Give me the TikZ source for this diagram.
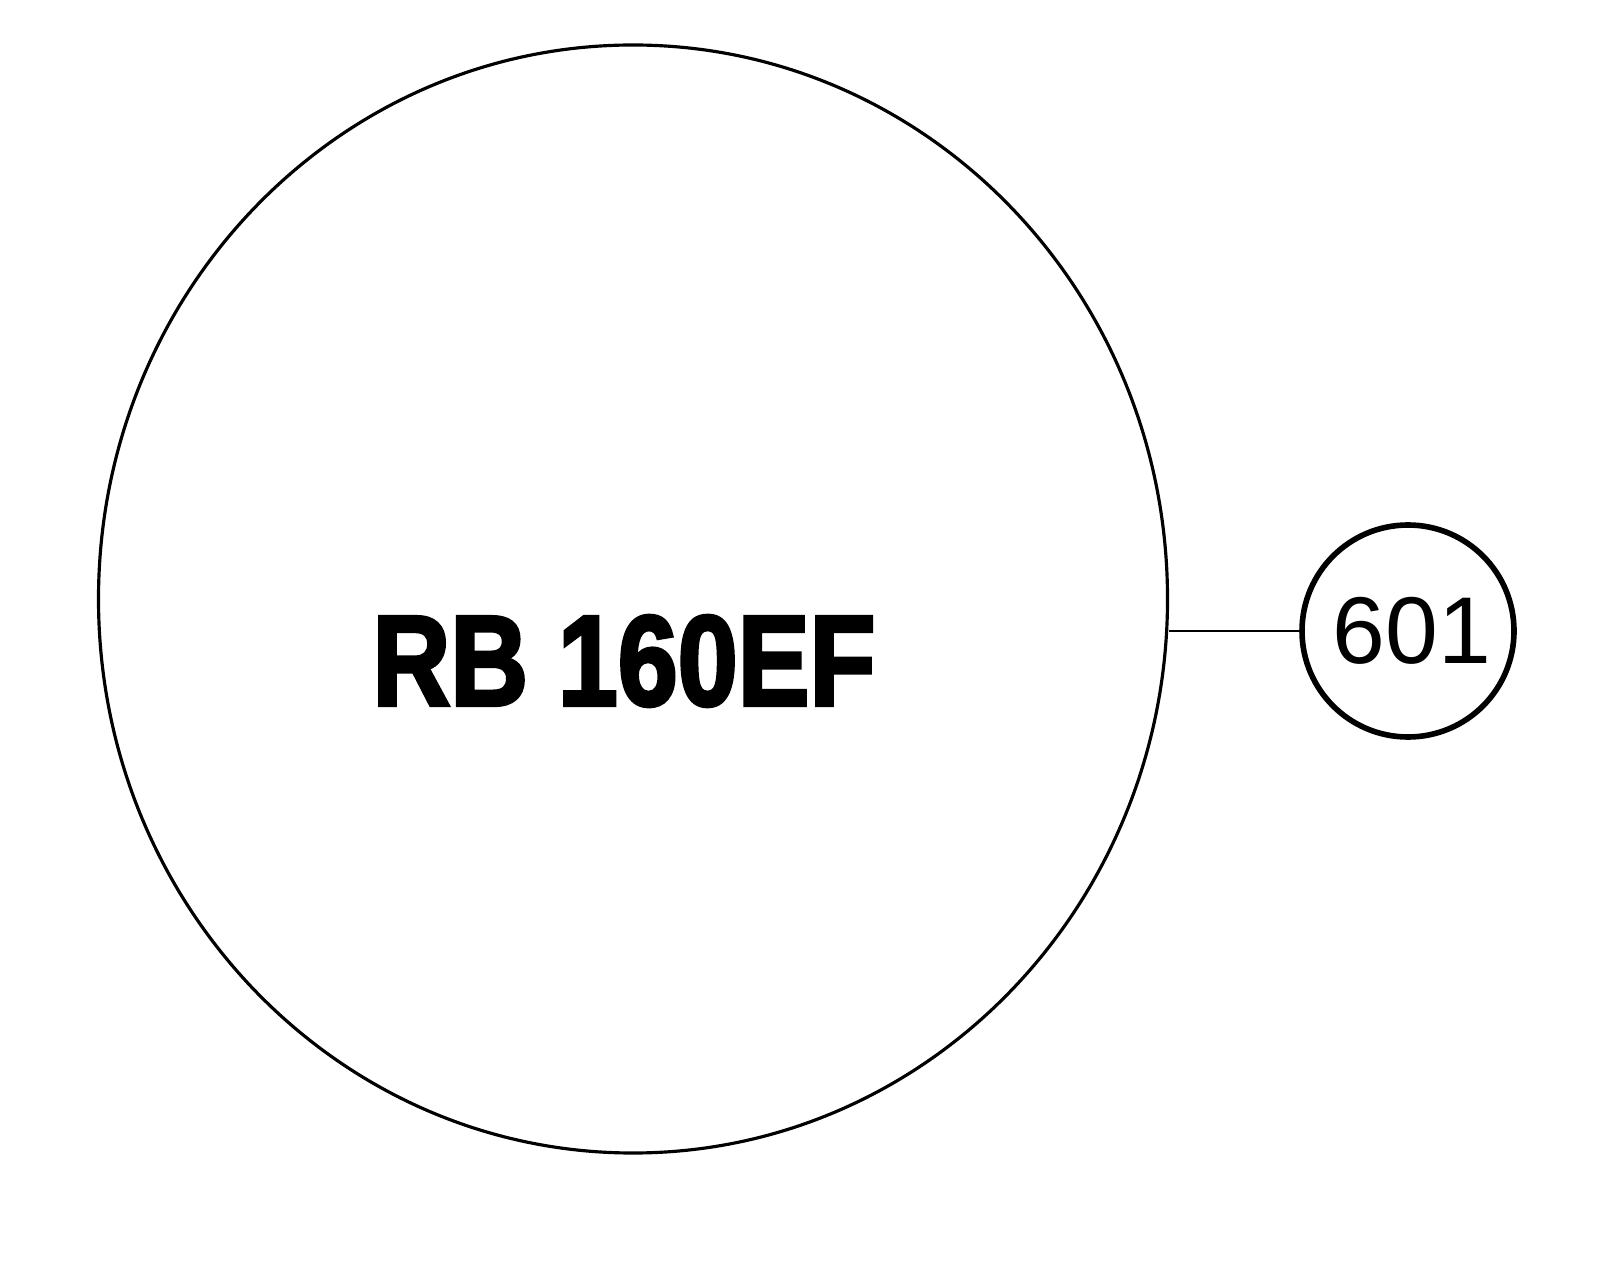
\documentclass[tikz,border=0pt]{standalone}
\usepackage{fontspec}
\setmainfont{Liberation Sans}
\newfontfamily\heavyfont[FakeBold=3]{Liberation Sans Bold}
\usetikzlibrary{shapes.geometric,positioning}

\tikzset{
    partshape/.style={draw, ellipse, line width=0.9pt, minimum width=10.69cm, minimum height=11.08cm, inner sep=0pt},
    tagcircle/.style={draw, circle, line width=1.6pt, minimum size=2.12cm, inner sep=0pt, font=\fontsize{27}{30}\selectfont},
    leaderline/.style={line width=0.5pt}
}

\begin{document}
\begin{tikzpicture}
    \useasboundingbox (0,0) rectangle (16,-12.77);

    % Part outline
    \node[partshape] (part) at (6.33,-5.99) {};

    % Part marking
    \node[inner sep=0pt] (marking) at (6.24,-6.61)
        {\scalebox{0.84}[1]{\heavyfont\fontsize{36.5}{40}\selectfont RB 160EF}};

    % Item tag
    \node[tagcircle] (tag) at (14.08,-6.31) {\hspace{0.08cm}601};

    % Leader line
    \draw[leaderline] (tag.west) -- (tag.west -| part.east);
\end{tikzpicture}
\end{document}
